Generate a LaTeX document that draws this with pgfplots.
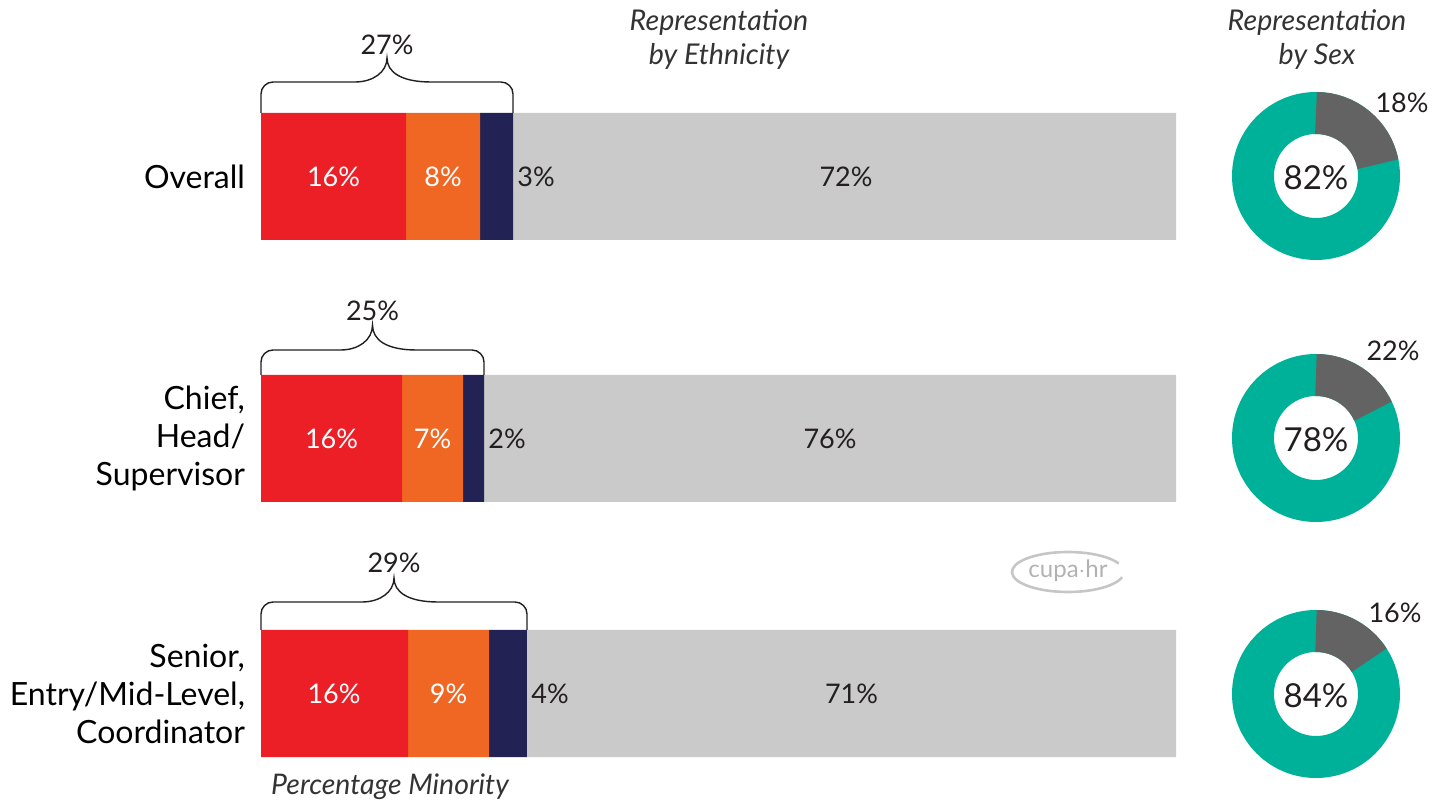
\documentclass[border=0pt]{standalone}
\usepackage{fontspec}
\setmainfont{Lato}
\usepackage{pgfplots}
\usepackage{pgfplotstable}
\pgfplotsset{compat=1.18}

\definecolor{cred}{HTML}{EC1F27}
\definecolor{corange}{HTML}{F06724}
\definecolor{cnavy}{HTML}{232255}
\definecolor{cgrey}{HTML}{CACACA}
\definecolor{cteal}{HTML}{00B199}
\definecolor{cdark}{HTML}{636363}
\definecolor{ctext}{HTML}{231F20}
\definecolor{ctitle}{HTML}{333333}

% bar centre (px from top, negated), shares of each group
\pgfplotstableread{
y      red   orange navy  white
-176.5 15.85 8.09   3.61  72.45
-438.5 15.41 6.67   2.30  75.62
-693.5 16.07 8.85   4.15  70.93
}\ethnic

% donut centre and grey slice as drawn
\pgfplotstableread{
y    slice
-176 22
-438 18
-694 16
}\sexdata

% brace: x0 x1 ybar yhoriz ytip
\newcommand{\minbrace}[5]{%
  \pgfmathsetmacro{\xm}{(#1+#2)/2}%
  \draw[ctext, line width=0.7pt, rounded corners=6pt]
    (#1,#3) -- (#1,#4) -- ({\xm-44},#4) [sharp corners]
    .. controls ({\xm-14},#4) and (\xm,{#4-10}) .. (\xm,#5)
    .. controls (\xm,{#4-10}) and ({\xm+14},#4) .. ({\xm+44},#4)
    [rounded corners=6pt] -- (#2,#4) -- (#2,#3);}

\begin{document}
\begin{tikzpicture}
\useasboundingbox (0,0) rectangle (716pt,-401pt);
\begin{axis}[
  at={(130.5pt,-401pt)}, anchor=south west,
  width=457.5pt, height=401pt, scale only axis,
  xmin=0, xmax=100, ymin=-802, ymax=0,
  hide axis, clip=false,
  xbar stacked, bar width=127,
]
\addplot[fill=cred, draw=none] table[x=red, y=y] {\ethnic};
\addplot[fill=corange, draw=none] table[x=orange, y=y] {\ethnic};
\addplot[fill=cnavy, draw=none] table[x=navy, y=y] {\ethnic};
\addplot[fill=cgrey, draw=none] table[x=white, y=y] {\ethnic};

% donut centres, placed through the axis
\pgfplotsinvokeforeach{0,1,2}{
  \pgfplotstablegetelem{#1}{y}\of\sexdata
  \edef\temp{\noexpand\coordinate (d#1) at (axis cs:115.3,\pgfplotsretval);}
  \temp
}
\end{axis}

% donuts
\foreach \i in {0,1,2}{
  \pgfplotstablegetelem{\i}{slice}\of\sexdata
  \pgfmathsetmacro{\ea}{90-3.6*\pgfplotsretval}
  \draw[cteal, line width=21pt] (d\i) circle[radius=31.5pt];
  \draw[cdark, line width=21pt] ([yshift=31.5pt]d\i)
    arc[start angle=90, end angle=\ea, radius=31.5pt];
}

\begin{scope}[x=0.5pt, y=-0.5pt]
  % titles
  \node[font=\fontsize{14.3}{17}\selectfont\itshape, text=ctitle, align=center]
    at (719,40) {Representation\\by Ethnicity};
  \node[font=\fontsize{14.3}{17}\selectfont\itshape, text=ctitle, align=center]
    at (1317,40) {Representation\\by Sex};
  \node[font=\fontsize{14.2}{16}\selectfont\itshape, text=ctitle]
    at (390,787) {Percentage Minority};

  % category labels
  \begin{scope}[every node/.style={anchor=east, align=right, text=black,
      font=\fontsize{16}{19}\selectfont}]
    \node at (252,176.5) {Overall};
    \node at (252,438.5) {Chief,\\Head/\\Supervisor};
    \node at (252,693.5) {Senior,\\Entry/Mid-Level,\\Coordinator};
  \end{scope}

  % bar labels
  \begin{scope}[every node/.style={font=\fontsize{13.5}{16}\selectfont}]
    \node[text=white] at (333.5,176.5) {16\%};
    \node[text=white] at (443,176.5) {8\%};
    \node[text=ctext, anchor=west, inner sep=1pt] at (515,176.5) {3\%};
    \node[text=ctext] at (846,176.5) {72\%};
    \node[text=white] at (331.5,438.5) {16\%};
    \node[text=white] at (432.5,438.5) {7\%};
    \node[text=ctext, anchor=west, inner sep=1pt] at (486,438.5) {2\%};
    \node[text=ctext] at (830,438.5) {76\%};
    \node[text=white] at (334,693.5) {16\%};
    \node[text=white] at (448.5,693.5) {9\%};
    \node[text=ctext, anchor=west, inner sep=1pt] at (529,693.5) {4\%};
    \node[text=ctext] at (851.5,693.5) {71\%};

    \node[text=ctext] at (387,45) {27\%};
    \node[text=ctext] at (372.5,311) {25\%};
    \node[text=ctext] at (394,563) {29\%};

    \node[text=ctext] at (1402,103) {18\%};
    \node[text=ctext] at (1393,351) {22\%};
    \node[text=ctext] at (1395,613) {16\%};
  \end{scope}
  \begin{scope}[every node/.style={font=\fontsize{16.5}{19}\selectfont, text=ctext}]
    \node at (1316,178) {82\%};
    \node at (1316,440) {78\%};
    \node at (1316,696) {84\%};
  \end{scope}

  % braces
  \minbrace{261}{513}{113}{82}{58}
  \minbrace{261}{484}{375}{350}{325}
  \minbrace{261}{527}{630}{602}{578}

  % logo
  \draw[gray!45, line width=1.3pt] (1068,572) ++(25:28pt and 10pt)
    arc[start angle=25, end angle=345, x radius=28pt, y radius=10pt];
  \node[text=gray!60, font=\fontsize{12}{14}\selectfont] at (1068,571) {cupa$\cdot$hr};
\end{scope}
\end{tikzpicture}
\end{document}
